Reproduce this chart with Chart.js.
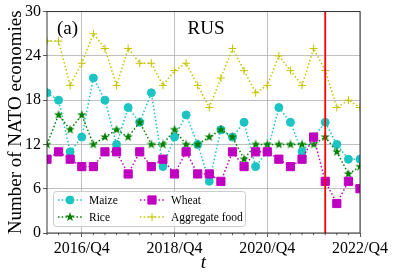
<!DOCTYPE html>
<html><head><meta charset="utf-8">
<script src="https://cdn.jsdelivr.net/npm/chart.js@4"></script>
<style>html,body{margin:0;padding:0;background:#fff}#wrap{width:394px;height:279px;position:relative}</style>
</head><body><div id="wrap"><canvas id="c" width="394" height="279"></canvas></div>
<script>
// ---- data ----
const quarters = ['2016/Q1','2016/Q2','2016/Q3','2016/Q4','2017/Q1','2017/Q2','2017/Q3','2017/Q4',
  '2018/Q1','2018/Q2','2018/Q3','2018/Q4','2019/Q1','2019/Q2','2019/Q3','2019/Q4',
  '2020/Q1','2020/Q2','2020/Q3','2020/Q4','2021/Q1','2021/Q2','2021/Q3','2021/Q4',
  '2022/Q1','2022/Q2','2022/Q3','2022/Q4'];
const maize     = [19,18,11,13,21,18,12,17,15,19,9,13,16,12,7,14,13,15,9,11,17,15,11,13,15,12,10,10];
const rice      = [12,16,14,16,12,13,14,13,15,12,12,14,12,12,13,14,13,10,12,12,12,12,12,12,13,11,8,9];
const wheat     = [10,11,10,9,9,11,11,8,11,9,10,8,11,8,8,7,11,9,11,11,10,9,10,13,7,4,7,6];
const aggregate = [26,26,20,23,27,25,20,25,23,23,20,22,23,20,17,21,25,22,19,20,24,22,20,25,22,17,18,17];
const xTickLabels = ['2016/Q4','2018/Q4','2020/Q4','2022/Q4'];
const yTickValues = [0,6,12,18,24,30];
const eventQuarter = '2022/Q1';
const seriesNames = ['Maize','Rice','Wheat','Aggregate food'];
const panelLabel = '(a)';
const countryLabel = 'RUS';
const yTitle = 'Number of NATO economies';
const xTitle = 't';

// ---- styling ----
const SERIF = "'Liberation Serif','DejaVu Serif',serif";
const C_MAIZE = '#1cc4c4', C_RICE = '#008000', C_WHEAT = '#c000c0', C_AGG = '#c4c400';

function makeStar(color, size){
  const c = document.createElement('canvas'); c.width = c.height = size;
  const g = c.getContext('2d'); const R = size/2, r = R*0.4;
  g.beginPath();
  for (let k=0;k<10;k++){ const a=-Math.PI/2+k*Math.PI/5; const rad=k%2?r:R; g.lineTo(R+rad*Math.cos(a), R+rad*Math.sin(a)); }
  g.closePath(); g.fillStyle=color; g.fill(); return c;
}
const starImg = makeStar(C_RICE, 10);

const toXY = arr => arr.map((v,i)=>({x:i,y:v}));
const eventIdx = quarters.indexOf(eventQuarter);
const isMajor = v => xTickLabels.includes(quarters[v]);

const common = {borderWidth:1.5, borderDash:[1.5,2.2], fill:false, tension:0, pointBorderWidth:1};
const datasets = [
  {...common, label:seriesNames[0], data:toXY(maize), borderColor:C_MAIZE, pointBackgroundColor:C_MAIZE, pointBorderColor:C_MAIZE, pointStyle:'circle', pointRadius:4, order:4},
  {...common, label:seriesNames[1], data:toXY(rice), borderColor:C_RICE, pointBackgroundColor:C_RICE, pointBorderColor:C_RICE, pointStyle:starImg, pointRadius:5, order:3},
  {...common, label:seriesNames[2], data:toXY(wheat), borderColor:C_WHEAT, pointBackgroundColor:C_WHEAT, pointBorderColor:C_WHEAT, pointStyle:'rect', pointRadius:5.8, order:2},
  {...common, label:seriesNames[3], data:toXY(aggregate), borderColor:C_AGG, pointBackgroundColor:C_AGG, pointBorderColor:C_AGG, pointStyle:'cross', pointRadius:4, pointBorderWidth:1, order:1},
  {label:'event', data:[{x:eventIdx,y:yTickValues[0]},{x:eventIdx,y:yTickValues[yTickValues.length-1]}], borderColor:'#ff0000', borderWidth:1.8, pointRadius:0, fill:false, order:0}
];

const decor = {
  id:'decor',
  afterDatasetsDraw(chart){
    const {ctx, chartArea:a, scales:{x}} = chart;
    ctx.save();
    // minor ticks
    ctx.strokeStyle='#333'; ctx.lineWidth=0.8;
    quarters.forEach((q,i)=>{ if(isMajor(i)) return; const px=x.getPixelForValue(i); ctx.beginPath(); ctx.moveTo(px,a.bottom); ctx.lineTo(px,a.bottom+2.2); ctx.stroke(); });
    // frame
    ctx.strokeStyle='#222'; ctx.lineWidth=0.9;
    ctx.strokeRect(a.left, a.top, a.right-a.left, a.bottom-a.top);
    // panel texts
    ctx.fillStyle='#000'; ctx.font='19px '+SERIF; ctx.textBaseline='middle'; ctx.textAlign='left';
    ctx.fillText(panelLabel, a.left+10, a.top+17);
    ctx.textAlign='center';
    ctx.fillText(countryLabel, a.left+159, a.top+17);
    // legend
    const bx=53.5, by=191.5, bw=192, bh=35;
    ctx.fillStyle='rgba(255,255,255,0.85)'; ctx.strokeStyle='#cccccc'; ctx.lineWidth=1;
    ctx.beginPath(); ctx.roundRect(bx,by,bw,bh,3); ctx.fill(); ctx.stroke();
    const items = [
      {ds:0, x:58, y:200}, {ds:2, x:140, y:200},
      {ds:1, x:58, y:217}, {ds:3, x:140, y:217}
    ];
    items.forEach(it=>{
      const d = datasets[it.ds];
      ctx.strokeStyle=d.borderColor; ctx.lineWidth=1.5; ctx.setLineDash([1.5,2.2]);
      ctx.beginPath(); ctx.moveTo(it.x,it.y); ctx.lineTo(it.x+24,it.y); ctx.stroke();
      ctx.setLineDash([]);
      ctx.fillStyle=d.pointBackgroundColor; ctx.strokeStyle=d.pointBorderColor; ctx.lineWidth=d.pointBorderWidth;
      Chart.helpers.drawPoint(ctx, {pointStyle:d.pointStyle, radius:d.pointRadius, rotation:0, borderWidth:d.pointBorderWidth}, it.x+12, it.y);
      ctx.fillStyle='#000'; ctx.font='11.5px '+SERIF; ctx.textAlign='left'; ctx.textBaseline='middle';
      ctx.fillText(d.label, it.x+31, it.y+0.5);
    });
    ctx.restore();
  }
};

new Chart(document.getElementById('c'), {
  type:'line',
  data:{datasets},
  options:{
    responsive:false, animation:false, devicePixelRatio:1,
    layout:{padding:{top:10,right:34,left:0,bottom:0}},
    plugins:{legend:{display:false}, tooltip:{enabled:false}},
    scales:{
      x:{type:'linear', min:0, max:quarters.length-1,
        afterBuildTicks:s=>{ s.ticks = quarters.map((q,i)=>({value:i})); },
        afterFit:s=>{ s.height=46; },
        ticks:{autoSkip:false, maxRotation:0, minRotation:0, padding:2, color:'#000', font:{family:SERIF,size:16},
          callback:(v)=> isMajor(v)?quarters[v]:''},
        grid:{color:c=> (c.tick && isMajor(c.tick.value))?'#b0b0b0':'rgba(0,0,0,0)', lineWidth:0.8, tickLength:4,
          tickColor:c=> (c.tick && isMajor(c.tick.value))?'#333':'rgba(0,0,0,0)'},
        border:{display:false},
        title:{display:true, text:xTitle, color:'#000', font:{family:SERIF, size:19, style:'italic'}, padding:{top:0,bottom:5}}
      },
      y:{min:yTickValues[0], max:yTickValues[yTickValues.length-1],
        afterBuildTicks:s=>{ s.ticks = yTickValues.map(v=>({value:v})); },
        afterFit:s=>{ s.width=47; },
        ticks:{padding:2, color:'#000', font:{family:SERIF,size:16}},
        grid:{color:'#b0b0b0', lineWidth:0.8, tickLength:4, tickColor:'#333'},
        border:{display:false},
        title:{display:true, text:yTitle, color:'#000', font:{family:SERIF,size:19}, padding:{top:5,bottom:0}}
      }
    }
  },
  plugins:[decor]
});
</script></body></html>
